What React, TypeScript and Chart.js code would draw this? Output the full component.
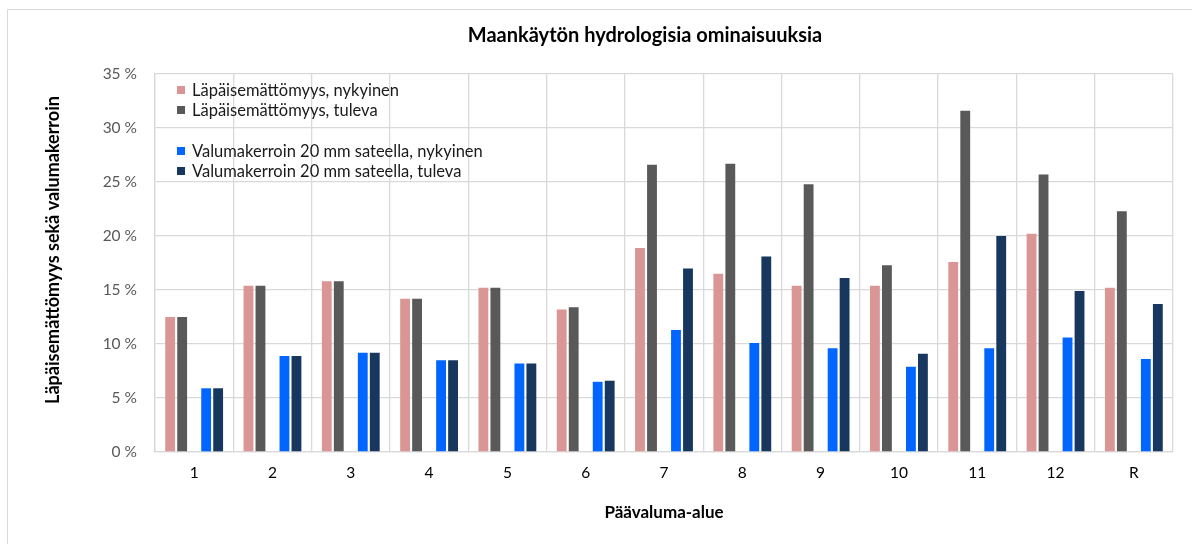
import React, { useEffect, useRef } from "react";
import { Chart, registerables } from "chart.js";

Chart.register(...registerables);

const categories = ["1", "2", "3", "4", "5", "6", "7", "8", "9", "10", "11", "12", "R"];
const imperviousNow = [12.5, 15.4, 15.8, 14.2, 15.2, 13.2, 18.9, 16.5, 15.4, 15.4, 17.6, 20.2, 15.2];
const imperviousFuture = [12.5, 15.4, 15.8, 14.2, 15.2, 13.4, 26.6, 26.7, 24.8, 17.3, 31.6, 25.7, 22.3];
const runoffNow = [5.9, 8.9, 9.2, 8.5, 8.2, 6.5, 11.3, 10.1, 9.6, 7.9, 9.6, 10.6, 8.6];
const runoffFuture = [5.9, 8.9, 9.2, 8.5, 8.2, 6.6, 17.0, 18.1, 16.1, 9.1, 20.0, 14.9, 13.7];
const emptySeries = categories.map(() => null);

const seriesLabels = [
  "Läpäisemättömyys, nykyinen",
  "Läpäisemättömyys, tuleva",
  "",
  "Valumakerroin 20 mm sateella, nykyinen",
  "Valumakerroin 20 mm sateella, tuleva",
];
const seriesColors = ["#DA9694", "#595959", "rgba(0,0,0,0)", "#0066FF", "#17375E"];

const chartTitle = "Maankäytön hydrologisia ominaisuuksia";
const xTitle = "Päävaluma-alue";
const yTitle = "Läpäisemättömyys sekä valumakerroin";

const FONT = "Lato, 'Open Sans', sans-serif";

const overlayPlugin = {
  id: "overlay",
  afterDraw(chart: any) {
    const ctx = chart.ctx;
    const area = chart.chartArea;
    ctx.save();
    // outer chart border
    ctx.strokeStyle = "#d9d9d9";
    ctx.lineWidth = 1;
    ctx.beginPath();
    ctx.moveTo(7.5, 600);
    ctx.lineTo(7.5, 9.5);
    ctx.lineTo(1300, 9.5);
    ctx.stroke();

    // title
    ctx.fillStyle = "#000000";
    ctx.font = `bold 20px ${FONT}`;
    ctx.textAlign = "center";
    ctx.textBaseline = "middle";
    ctx.fillText(chartTitle, 645, 36);

    // axis titles
    ctx.font = `bold 17px ${FONT}`;
    ctx.fillText(xTitle, (area.left + area.right) / 2, 513);
    ctx.save();
    ctx.translate(53, 250);
    ctx.rotate(-Math.PI / 2);
    ctx.font = `bold 18px ${FONT}`;
    ctx.fillText(yTitle, 0, 0);
    ctx.restore();

    // legend inside plot
    const rows = [90, 110, 151, 171];
    const idx = [0, 1, 3, 4];
    ctx.textAlign = "left";
    ctx.font = `16.5px ${FONT}`;
    idx.forEach((di, i) => {
      const ds = chart.data.datasets[di];
      ctx.fillStyle = ds.backgroundColor;
      ctx.fillRect(177, rows[i] - 4, 8, 8);
      ctx.fillStyle = "#1a1a1a";
      ctx.fillText(ds.label, 192, rows[i] + 1);
    });
    ctx.restore();
  },
};

export default function App() {
  const ref = useRef<HTMLCanvasElement | null>(null);
  useEffect(() => {
    if (!ref.current) return;
    const series = [imperviousNow, imperviousFuture, emptySeries, runoffNow, runoffFuture];
    const chart = new Chart(ref.current, {
      type: "bar",
      data: {
        labels: categories,
        datasets: series.map((d, i) => ({
          label: seriesLabels[i],
          data: d as any,
          backgroundColor: seriesColors[i],
          borderWidth: 0,
          categoryPercentage: 0.766,
          barPercentage: 0.82,
        })),
      },
      options: {
        animation: false,
        responsive: false,
        maintainAspectRatio: false,
        layout: { padding: { left: 0, right: 19, top: 74, bottom: 0 } },
        plugins: {
          legend: { display: false },
          title: { display: false },
          tooltip: { enabled: false },
        },
        scales: {
          x: {
            grid: { color: "#d9d9d9", lineWidth: 1.3, drawTicks: false, offset: true },
            border: { color: "#d9d9d9", width: 1.3 },
            ticks: { color: "#000000", font: { family: FONT, size: 15.5 }, padding: 12 },
            afterFit: (s: any) => { s.height = 92; },
          },
          y: {
            min: 0,
            max: 35,
            grid: { color: "#d9d9d9", lineWidth: 1.3, drawTicks: false },
            border: { color: "#d9d9d9", width: 1.3 },
            ticks: {
              stepSize: 5,
              color: "#595959",
              font: { family: FONT, size: 15.5 },
              padding: 18,
              callback: (v: any) => `${v} %`,
            },
            afterFit: (s: any) => { s.width = 155; },
          },
        },
      },
      plugins: [overlayPlugin],
    });
    return () => chart.destroy();
  }, []);
  return (
    <div style={{ position: "fixed", left: 0, top: 0, width: 1192, height: 544, background: "#fff" }}>
      <canvas ref={ref} width={1192} height={544} style={{ width: 1192, height: 544 }} />
    </div>
  );
}
